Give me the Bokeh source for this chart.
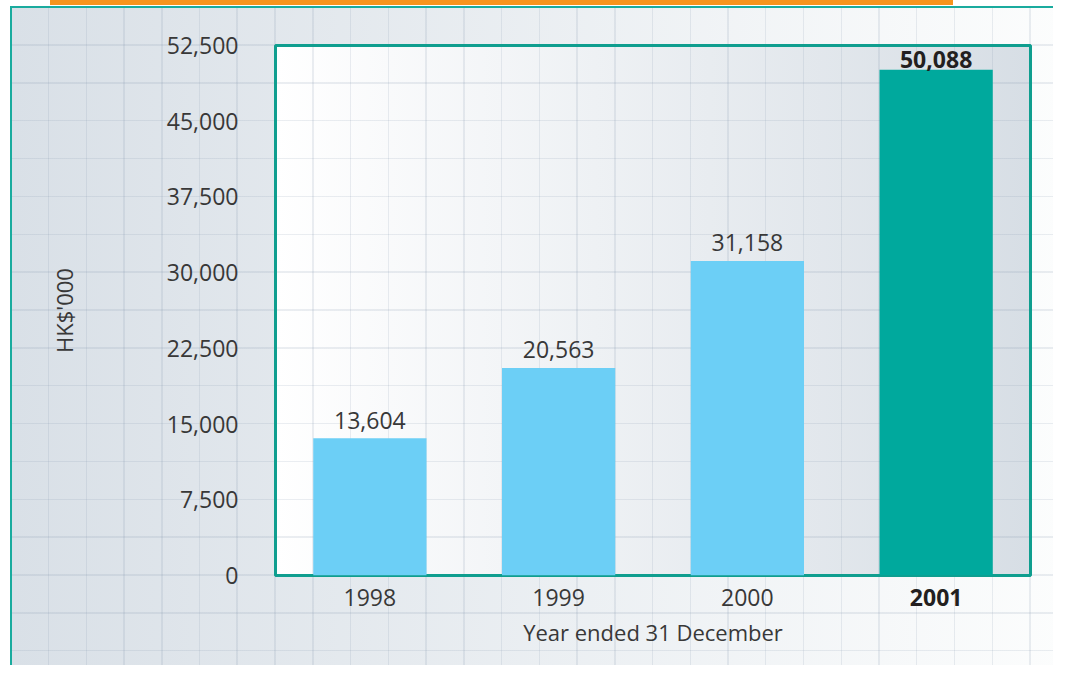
from bokeh.plotting import figure
from bokeh.models import Range1d, FixedTicker, Label, ColumnDataSource
from bokeh.core.properties import value
from bokeh.embed import file_html
from bokeh.resources import INLINE

# ---- data ----
years = ["1998", "1999", "2000", "2001"]
amounts = [13604, 20563, 31158, 50088]
bar_colors = ["#6ccff6", "#6ccff6", "#6ccff6", "#00a99d"]
y_ticks = [0, 7500, 15000, 22500, 30000, 37500, 45000, 52500]
y_tick_labels = ["0", "7,500", "15,000", "22,500", "30,000", "37,500", "45,000", "52,500"]
x_title = "Year ended 31 December"
y_title = "HK$'000"

FONT = "Open Sans"
TXT = "#383838"
BOLD = "#231f20"

# category centres on a numeric axis (one unit per year)
x_pos = [i + 0.5 for i in range(len(years))]

W, H = 1053, 665
FL, FT, FR, FB = 275, 45, 23, 90  # frame borders

p = figure(width=W, height=H, x_range=Range1d(0, len(years)), y_range=Range1d(0, 52500),
           output_backend="svg", toolbar_location=None,
           min_border_left=FL, min_border_right=FR, min_border_top=FT, min_border_bottom=FB)

fw = W - FL - FR
fh = H - FT - FB
gx = fw / 20.0
gy = fh / 14.0
OX, OY = 12, 8
phx = (FL - 0.75 - OX) % gx
phy = (FT - 0.75 - OY) % gy
line = "rgba(120,140,165,0.15)"
teal = "#1aab9e"
p.styles = {
    "background-color": "#ffffff",
    "background-image": ", ".join([
        f"repeating-linear-gradient(to right, transparent 0px, transparent {phx}px, {line} {phx}px, {line} {phx+1.5}px, transparent {phx+1.5}px, transparent {gx}px)",
        f"repeating-linear-gradient(to bottom, transparent 0px, transparent {phy}px, {line} {phy}px, {line} {phy+1.5}px, transparent {phy+1.5}px, transparent {gy}px)",
        "linear-gradient(to right, #ffffff, #d7dee5)",
        "linear-gradient(#f7941d, #f7941d)",
        f"linear-gradient({teal}, {teal})",
        f"linear-gradient({teal}, {teal})",
        "linear-gradient(to right, #d9e0e7, #fcfdfd)",
    ]),
    "background-position": f"{OX}px {OY}px, {OX}px {OY}px, {FL}px {FT}px, 50px 0px, 10px 6px, 10px 6px, {OX}px {OY}px",
    "background-size": f"100% 100%, 100% 100%, {fw}px {fh}px, 903px 5px, 2px 100%, 100% 2px, 100% 100%",
    "background-repeat": "no-repeat",
}

p.border_fill_color = None
p.background_fill_color = None
p.outline_line_color = "#0f9e8f"
p.outline_line_width = 3
p.xgrid.visible = False
p.ygrid.visible = False

src = ColumnDataSource(dict(x=x_pos, top=amounts, color=bar_colors))
p.vbar(x="x", top="top", width=0.6, color="color", source=src, line_color=None)

reg = ColumnDataSource(dict(x=x_pos[:3], y=amounts[:3], label=[f"{v:,}" for v in amounts[:3]]))
p.text(x="x", y="y", text="label", source=reg, text_align="center", text_baseline="alphabetic",
       y_offset=-18, text_font=value(FONT), text_font_size="23px", text_color=TXT)
bold = ColumnDataSource(dict(x=x_pos[3:], y=amounts[3:], label=[f"{v:,}" for v in amounts[3:]]))
p.text(x="x", y="y", text="label", source=bold, text_align="center", text_baseline="alphabetic",
       y_offset=-10, text_font=value(FONT), text_font_size="23px", text_color=BOLD,
       text_font_style="bold")

# y axis
ya = p.yaxis[0]
ya.ticker = FixedTicker(ticks=y_ticks)
ya.major_label_overrides = {t: l for t, l in zip(y_ticks, y_tick_labels)}
ya.axis_line_color = None
ya.major_tick_line_color = None
ya.minor_tick_line_color = None
ya.major_label_standoff = 31
ya.major_label_text_font = FONT
ya.major_label_text_font_size = "23px"
ya.major_label_text_color = TXT
ya.axis_label = y_title
ya.axis_label_text_font = FONT
ya.axis_label_text_font_size = "22px"
ya.axis_label_text_font_style = "normal"
ya.axis_label_text_color = TXT
ya.axis_label_standoff = 85

# x axis: regular year labels; the highlighted year is drawn bold below
xa = p.xaxis[0]
xa.ticker = FixedTicker(ticks=x_pos[:3])
xa.major_label_overrides = {t: l for t, l in zip(x_pos[:3], years[:3])}
xa.axis_line_color = None
xa.major_tick_line_color = None
xa.minor_tick_line_color = None
xa.major_label_standoff = 7
xa.major_label_text_font = FONT
xa.major_label_text_font_size = "23px"
xa.major_label_text_color = TXT
xa.axis_label = x_title
xa.axis_label_text_font = FONT
xa.axis_label_text_font_size = "22px"
xa.axis_label_text_font_style = "normal"
xa.axis_label_text_color = TXT
xa.axis_label_standoff = 8

p.add_layout(Label(x=x_pos[3], y=0, y_offset=-13, text=years[3],
                   text_align="center", text_baseline="top", text_font=FONT,
                   text_font_size="23px", text_font_style="bold", text_color=BOLD), "above")

open("out.html", "w").write(file_html(p, INLINE))
